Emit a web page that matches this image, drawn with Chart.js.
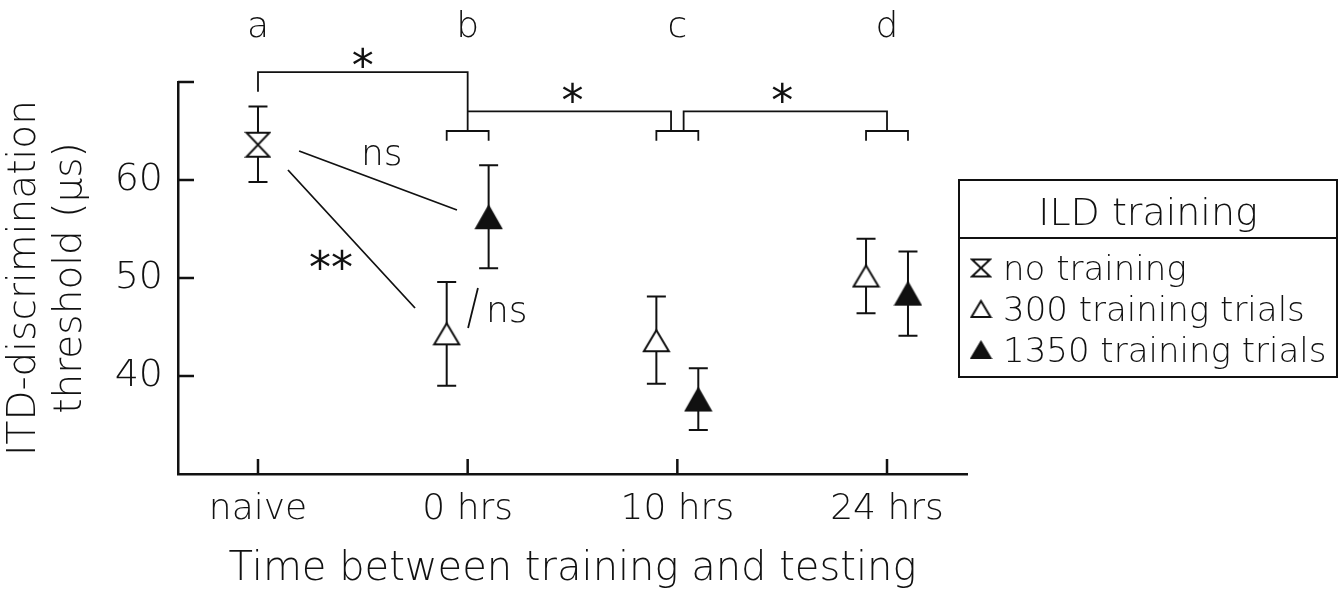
<!DOCTYPE html>
<html>
<head>
<meta charset="utf-8">
<script src="https://cdn.jsdelivr.net/npm/chart.js@4.4.1/dist/chart.umd.min.js"></script>
<style>
  html, body { margin: 0; padding: 0; background: #fff; }
</style>
</head>
<body>
<canvas id="itdChart" width="1344" height="595"></canvas>
<script>
// categories on the x axis and the letter shown above each group
const categories = ['naive', '0 hrs', '10 hrs', '24 hrs'];
const groupLetters = ['a', 'b', 'c', 'd'];
const seriesLabels = ['no training', '300 training trials', '1350 training trials'];

// thresholds in microseconds (mean, lower and upper end of the error bar)
const noTrainMean = [63.6];
const noTrainLow = [59.8];
const noTrainHigh = [67.5];

const trials300Mean = [44.3, 43.6, 50.2];
const trials300Low = [39.0, 39.2, 46.4];
const trials300High = [49.6, 48.1, 54.0];

const trials1350Mean = [56.2, 37.6, 48.4];
const trials1350Low = [51.0, 34.5, 44.1];
const trials1350High = [61.5, 40.8, 52.7];

const yTicks = [40, 50, 60];

const ink = '#111';
const family = '"DejaVu Sans", "Noto Sans", sans-serif';
const weight = '300';
const pairOffset = 0.1; // horizontal shift of the two trained groups

Chart.defaults.font.family = family;
Chart.defaults.font.weight = weight;
Chart.defaults.color = ink;

function makeMarker(kind, w, h) {
  const c = document.createElement('canvas');
  c.width = w + 4;
  c.height = h + 4;
  const g = c.getContext('2d');
  g.lineWidth = 2;
  g.strokeStyle = ink;
  g.beginPath();
  if (kind === 'hourglass') {
    g.moveTo(2, 2); g.lineTo(w + 2, 2); g.lineTo(2, h + 2); g.lineTo(w + 2, h + 2);
  } else {
    g.moveTo(w / 2 + 2, 2); g.lineTo(w + 2, h + 2); g.lineTo(2, h + 2);
  }
  g.closePath();
  g.fillStyle = kind === 'filled' ? ink : '#fff';
  g.fill();
  g.stroke();
  return c;
}

function points(catStart, shift, mean, lo, hi) {
  return mean.map((m, i) => ({ x: catStart + i + shift, y: m, lo: lo[i], hi: hi[i] }));
}

const datasets = [
  {
    label: seriesLabels[0],
    data: points(0, 0, noTrainMean, noTrainLow, noTrainHigh),
    pointStyle: makeMarker('hourglass', 23, 24),
    legendMarker: makeMarker('hourglass', 18, 17)
  },
  {
    label: seriesLabels[1],
    data: points(1, -pairOffset, trials300Mean, trials300Low, trials300High),
    pointStyle: makeMarker('open', 25, 21),
    legendMarker: makeMarker('open', 19, 16)
  },
  {
    label: seriesLabels[2],
    data: points(1, pairOffset, trials1350Mean, trials1350Low, trials1350High),
    pointStyle: makeMarker('filled', 25, 22),
    legendMarker: makeMarker('filled', 19, 16)
  }
];

function fontStr(size, w) { return (w || weight) + ' ' + size + 'px ' + family; }

// draw text so its visible box is centred on (cx, cy)
function centerText(ctx, text, cx, cy) {
  ctx.textAlign = 'left';
  ctx.textBaseline = 'alphabetic';
  const m = ctx.measureText(text);
  const x = cx - (m.actualBoundingBoxRight - m.actualBoundingBoxLeft) / 2;
  const y = cy + (m.actualBoundingBoxAscent - m.actualBoundingBoxDescent) / 2;
  ctx.fillText(text, x, y);
}

const errorBars = {
  id: 'errorBars',
  beforeDatasetsDraw(chart) {
    const { ctx, scales: { x, y } } = chart;
    ctx.save();
    ctx.strokeStyle = ink;
    ctx.lineWidth = 2;
    chart.data.datasets.forEach(ds => {
      ds.data.forEach(p => {
        const px = x.getPixelForValue(p.x);
        const yl = y.getPixelForValue(p.lo);
        const yh = y.getPixelForValue(p.hi);
        ctx.beginPath();
        ctx.moveTo(px, yl); ctx.lineTo(px, yh);
        ctx.moveTo(px - 9.5, yl); ctx.lineTo(px + 9.5, yl);
        ctx.moveTo(px - 9.5, yh); ctx.lineTo(px + 9.5, yh);
        ctx.stroke();
      });
    });
    // inward tick marks
    ctx.lineWidth = 2.5;
    ctx.beginPath();
    y.ticks.forEach(t => {
      if (t.value <= y.min) return;
      const py = y.getPixelForValue(t.value);
      ctx.moveTo(x.left, py); ctx.lineTo(x.left + 16, py);
    });
    x.ticks.forEach(t => {
      const px = x.getPixelForValue(t.value);
      ctx.moveTo(px, y.bottom); ctx.lineTo(px, y.bottom - 15);
    });
    ctx.stroke();
    ctx.restore();
  }
};

// significance brackets, letters and comparison lines (data units)
const groupBracketY = 65, groupLegY = 64;
const annotations = {
  id: 'annotations',
  afterDatasetsDraw(chart) {
    const { ctx, scales: { x, y } } = chart;
    const X = v => x.getPixelForValue(v);
    const Y = v => y.getPixelForValue(v);
    ctx.save();
    ctx.strokeStyle = ink;
    ctx.fillStyle = ink;
    ctx.lineWidth = 1.8;
    ctx.beginPath();
    // small brackets over each trained pair
    for (let c = 1; c < categories.length; c++) {
      ctx.moveTo(X(c - pairOffset), Y(groupLegY));
      ctx.lineTo(X(c - pairOffset), Y(groupBracketY));
      ctx.lineTo(X(c + pairOffset), Y(groupBracketY));
      ctx.lineTo(X(c + pairOffset), Y(groupLegY));
    }
    // naive vs 0 hrs
    ctx.moveTo(X(0), Y(69)); ctx.lineTo(X(0), Y(71)); ctx.lineTo(X(1), Y(71)); ctx.lineTo(X(1), Y(groupBracketY));
    // 0 hrs vs 10 hrs
    ctx.moveTo(X(1), Y(67)); ctx.lineTo(X(1.97), Y(67)); ctx.lineTo(X(1.97), Y(groupBracketY));
    // 10 hrs vs 24 hrs
    ctx.moveTo(X(2.03), Y(groupBracketY)); ctx.lineTo(X(2.03), Y(67)); ctx.lineTo(X(3), Y(67)); ctx.lineTo(X(3), Y(groupBracketY));
    // comparison lines from naive
    ctx.moveTo(X(0.196), Y(62.96)); ctx.lineTo(X(0.949), Y(56.94));
    ctx.moveTo(X(0.143), Y(61.02)); ctx.lineTo(X(0.749), Y(46.94));
    ctx.moveTo(X(1.049), Y(48.98)); ctx.lineTo(X(1.002), Y(44.9));
    ctx.stroke();

    ctx.font = fontStr(44, 'normal');
    centerText(ctx, '*', X(0.5), Y(72.55));
    centerText(ctx, '*', X(1.5), Y(68.88));
    centerText(ctx, '*', X(2.5), Y(68.88));
    centerText(ctx, '**', X(0.348), Y(51.84));
    ctx.font = fontStr(36);
    centerText(ctx, 'ns', X(0.596), Y(62.55));
    centerText(ctx, 'ns', X(1.192), Y(46.43));

    ctx.textAlign = 'center';
    ctx.textBaseline = 'alphabetic';
    groupLetters.forEach((l, i) => ctx.fillText(l, X(i), Y(74.6)));
    ctx.restore();
  }
};

const legendBox = {
  id: 'legendBox',
  afterDraw(chart) {
    const ctx = chart.ctx;
    const bx = 959, by = 180, bw = 378, bh = 197, head = 58;
    ctx.save();
    ctx.strokeStyle = ink;
    ctx.fillStyle = ink;
    ctx.lineWidth = 2;
    ctx.strokeRect(bx, by, bw, bh);
    ctx.beginPath();
    ctx.moveTo(bx, by + head); ctx.lineTo(bx + bw, by + head);
    ctx.stroke();
    ctx.font = fontStr(38);
    ctx.textAlign = 'center';
    ctx.textBaseline = 'alphabetic';
    ctx.fillText('ILD training', bx + bw / 2, 225);
    ctx.font = fontStr(34);
    ctx.textAlign = 'left';
    chart.data.datasets.forEach((ds, i) => {
      const base = 280 + i * 41;
      const m = ds.legendMarker;
      ctx.drawImage(m, 981 - m.width / 2, base - 12 - m.height / 2);
      ctx.fillText(ds.label, 1003, base);
    });
    ctx.restore();
  }
};

new Chart(document.getElementById('itdChart'), {
  type: 'scatter',
  data: { datasets },
  options: {
    responsive: false,
    animation: false,
    layout: { padding: { left: 0, right: 377, top: 82, bottom: 0 } },
    plugins: {
      legend: { display: false },
      tooltip: { enabled: false }
    },
    scales: {
      x: {
        type: 'linear',
        min: -0.3815,
        max: 3.3815,
        afterBuildTicks: s => { s.ticks = categories.map((c, i) => ({ value: i })); },
        afterFit: s => { s.height = 121; },
        grid: { display: false, drawTicks: false },
        border: { display: true, color: ink, width: 2.5 },
        ticks: {
          callback: v => categories[v] ?? '',
          font: { size: 36 },
          color: ink,
          padding: 14,
          maxRotation: 0,
          autoSkip: false
        },
        title: {
          display: true,
          text: 'Time between training and testing',
          font: { size: 40 },
          color: ink,
          padding: { top: 0, bottom: 1 }
        }
      },
      y: {
        min: 30,
        max: 70,
        afterBuildTicks: s => { s.ticks = [30, ...yTicks, 70].map(v => ({ value: v })); },
        afterFit: s => { s.width = 178; },
        grid: { display: false, drawTicks: false },
        border: { display: true, color: ink, width: 2.5 },
        ticks: {
          callback: v => yTicks.includes(v) ? String(v) : '',
          font: { size: 38 },
          color: ink,
          padding: 15
        },
        title: {
          display: true,
          text: ['ITD-discrimination', 'threshold (μs)'],
          font: { size: 39, lineHeight: 1.17 },
          color: ink,
          padding: { top: 2, bottom: 0 }
        }
      }
    },
    elements: { point: { radius: 12 } }
  },
  plugins: [errorBars, annotations, legendBox]
});
</script>
</body>
</html>
